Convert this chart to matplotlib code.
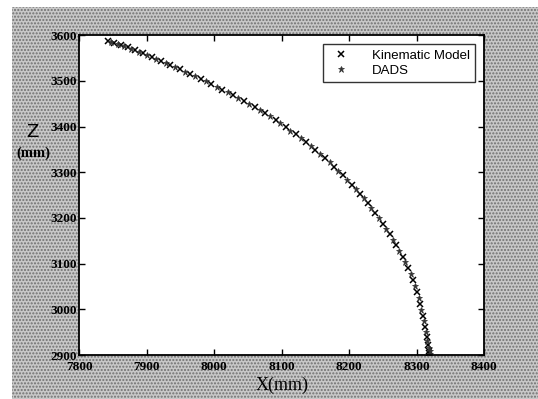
import matplotlib.pyplot as plt
from matplotlib.patches import Rectangle

# Kinematic model trajectory (X, Z in mm)
kin_x = [7843, 7852, 7862, 7872, 7883, 7895, 7908, 7921, 7935, 7950, 7965,
         7980, 7996, 8012, 8028, 8044, 8060, 8076, 8091, 8106, 8121, 8136,
         8150, 8164, 8178, 8191, 8204, 8216, 8228, 8239, 8250, 8260, 8270,
         8279, 8287, 8294, 8300, 8305, 8309, 8313, 8315, 8317, 8318, 8318]
kin_z = [3588, 3583, 3578, 3573, 3567, 3560, 3552, 3543, 3535, 3525, 3515,
         3504, 3493, 3481, 3469, 3456, 3443, 3429, 3414, 3399, 3383, 3366,
         3349, 3331, 3312, 3293, 3273, 3253, 3232, 3210, 3187, 3164, 3140,
         3115, 3090, 3064, 3038, 3012, 2986, 2962, 2940, 2922, 2910, 2904]

# DADS simulation trajectory
dads_x = [7847, 7857, 7867, 7877, 7889, 7901, 7914, 7928, 7942, 7957, 7972,
          7988, 8004, 8020, 8036, 8052, 8068, 8083, 8098, 8113, 8128, 8143,
          8157, 8171, 8184, 8197, 8210, 8222, 8233, 8244, 8255, 8265, 8274,
          8283, 8291, 8297, 8303, 8307, 8311, 8314, 8316, 8318, 8319, 8320]
dads_z = [3586, 3581, 3576, 3570, 3564, 3556, 3548, 3539, 3530, 3520, 3510,
          3499, 3487, 3475, 3463, 3450, 3436, 3422, 3407, 3391, 3375, 3358,
          3340, 3322, 3303, 3283, 3263, 3243, 3221, 3199, 3176, 3152, 3128,
          3103, 3077, 3051, 3025, 2999, 2974, 2951, 2931, 2916, 2908, 2903]

x_ticks = [7800, 7900, 8000, 8100, 8200, 8300, 8400]
z_ticks = [2900, 3000, 3100, 3200, 3300, 3400, 3500, 3600]

fig = plt.figure(figsize=(5.38, 3.99), dpi=100)
fig.patch.set_facecolor('white')
fig.patches.append(Rectangle((12 / 538, 0), 1, 1 - 7 / 399, transform=fig.transFigure,
                             facecolor='#c8c8c8', edgecolor='#707070', hatch='.....',
                             lw=0, zorder=-10))

ax = fig.add_axes([0.147, 0.110, 0.753, 0.802])
ax.set_facecolor('white')

ax.plot(kin_x, kin_z, linestyle='none', marker='x', markersize=4.5, mew=1.1,
        color='black', label='Kinematic Model')
ax.plot(dads_x, dads_z, linestyle='none', marker='*', markersize=4.5, mew=0.5,
        color='#333333', label='DADS')

ax.set_xlim(7800, 8400)
ax.set_ylim(2900, 3600)
ax.set_xticks(x_ticks)
ax.set_yticks(z_ticks)
ax.tick_params(direction='in', top=True, right=True, length=4, width=1,
               labelsize=9.5, pad=1.5)
ax.tick_params(axis='x', pad=4)
for lab in ax.get_xticklabels() + ax.get_yticklabels():
    lab.set_fontfamily('Liberation Serif')
    lab.set_fontweight('bold')
for sp in ax.spines.values():
    sp.set_linewidth(1.3)

ax.set_xlabel('X(mm)', fontfamily='Liberation Serif', fontsize=13, labelpad=3)
fig.text(0.060, 0.669, 'Z', fontfamily='DejaVu Sans', fontsize=13,
         ha='center', va='center')
fig.text(0.062, 0.617, '(mm)', fontfamily='Liberation Serif', fontsize=10.5,
         ha='center', va='center', fontweight='bold')

leg = ax.legend(loc='upper right', frameon=True, fancybox=False,
                edgecolor='black', prop={'family': 'Liberation Sans', 'size': 9.5},
                borderaxespad=0.7, handletextpad=1.3, labelspacing=0.2,
                borderpad=0.4)
leg.get_frame().set_linewidth(1.0)

fig.savefig('out.png', dpi=100)
